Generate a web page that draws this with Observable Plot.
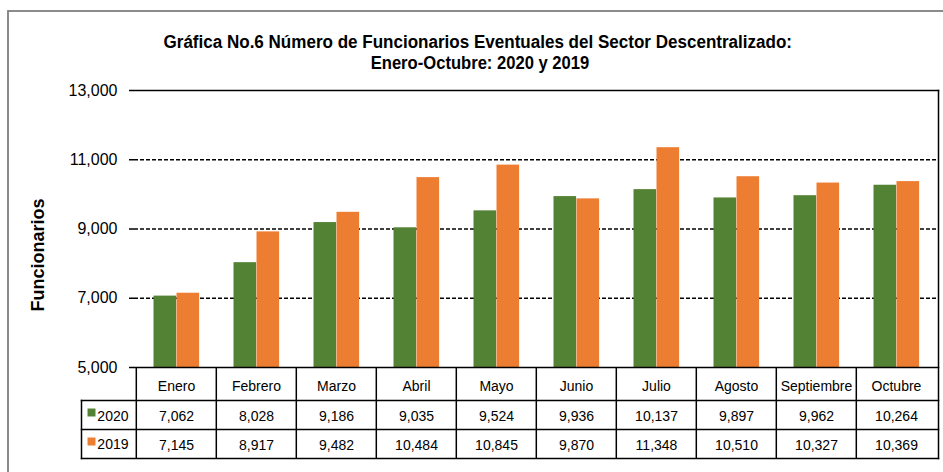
<!DOCTYPE html>
<html>
<head>
<meta charset="utf-8">
<script src="https://cdn.jsdelivr.net/npm/d3@7"></script>
<script src="https://cdn.jsdelivr.net/npm/@observablehq/plot@0.6"></script>
<style>
  html, body { margin: 0; padding: 0; background: #fff; overflow: hidden; }
  #chart { width: 943px; height: 472px; }
</style>
</head>
<body>
<div id="chart"></div>
<script>
const months = ["Enero", "Febrero", "Marzo", "Abril", "Mayo", "Junio", "Julio", "Agosto", "Septiembre", "Octubre"];
const seriesNames = ["2020", "2019"];
const values2020 = [7062, 8028, 9186, 9035, 9524, 9936, 10137, 9897, 9962, 10264];
const values2019 = [7145, 8917, 9482, 10484, 10845, 9870, 11348, 10510, 10327, 10369];
const yTicks = [5000, 7000, 9000, 11000, 13000];
const gridValues = [7000, 9000, 11000];
const titleLines = [
  "Gráfica No.6 Número de Funcionarios Eventuales del Sector Descentralizado:",
  "Enero-Octubre: 2020 y 2019"
];
const yLabel = "Funcionarios";

const colors = {"2020": "#548235", "2019": "#ED7D31"};

const W = 943, H = 472, mL = 134, mR = 5, mT = 90, mB = 105;
const bw = (W - mL - mR) / months.length;
const barW = 23, barOff = 17.5;
const fmt = d3.format(",");

const rows = months.map((m, i) => ({month: m, v2020: values2020[i], v2019: values2019[i]}));
const yMin = yTicks[0];
const line = {stroke: "#000", strokeWidth: 1.5};

const chart = Plot.plot({
  width: W, height: H,
  marginLeft: mL, marginRight: mR, marginTop: mT, marginBottom: mB,
  style: {fontFamily: "'Liberation Sans', Arial, sans-serif", background: "#fff", color: "#000"},
  x: {type: "band", domain: months, padding: 0, axis: null},
  y: {domain: [yTicks[0], yTicks[yTicks.length - 1]], axis: null},
  marks: [
    Plot.ruleY(gridValues, {stroke: "#000", strokeWidth: 1.4, strokeDasharray: "4,2"}),
    Plot.barY(rows, {x: "month", y1: yMin, y2: "v2020", fill: colors["2020"], insetLeft: barOff, insetRight: bw - barOff - barW}),
    Plot.barY(rows, {x: "month", y1: yMin, y2: "v2019", fill: colors["2019"], insetLeft: barOff + barW, insetRight: bw - barOff - 2 * barW}),
    Plot.axisY({ticks: yTicks, tickFormat: fmt, tickSize: 5, tickPadding: 12, fontSize: 16, label: null, strokeWidth: 1.5}),
    Plot.text([yLabel], {frameAnchor: "left", dx: -96, dy: 26, rotate: -90, text: d => d, fontWeight: "bold", fontSize: 18, textAnchor: "middle"}),
    // plot area borders
    Plot.frame({anchor: "top", ...line}),
    Plot.frame({anchor: "right", insetBottom: -91, ...line}),
    Plot.frame({anchor: "bottom", ...line}),
    // table
    Plot.ruleX(months, {x: d => d, dx: -bw / 2, insetTop: H - mT - mB, insetBottom: -91, ...line}),
    Plot.frame({anchor: "left", insetLeft: -53, insetTop: 310, insetBottom: -91, ...line}),
    Plot.frame({anchor: "top", insetLeft: -53, insetTop: 310, ...line}),
    Plot.frame({anchor: "top", insetLeft: -53, insetTop: 339, ...line}),
    Plot.frame({anchor: "top", insetLeft: -53, insetTop: 368, ...line}),
    Plot.text(months, {x: d => d, frameAnchor: "bottom", dy: 19.5, text: d => d, fontSize: 14, lineAnchor: "middle"}),
    Plot.text(rows, {x: "month", frameAnchor: "bottom", dy: 49.5, text: d => fmt(d.v2020), fontSize: 14, lineAnchor: "middle"}),
    Plot.text(rows, {x: "month", frameAnchor: "bottom", dy: 78, text: d => fmt(d.v2019), fontSize: 14, lineAnchor: "middle"}),
    // legend in table
    Plot.dot([seriesNames[0]], {frameAnchor: "bottom-left", dx: -43, dy: 45, symbol: "square", r: 4.5, fill: colors["2020"], stroke: null}),
    Plot.dot([seriesNames[1]], {frameAnchor: "bottom-left", dx: -43, dy: 74, symbol: "square", r: 4.5, fill: colors["2019"], stroke: null}),
    Plot.text([seriesNames[0]], {frameAnchor: "bottom-left", dx: -6, dy: 49, text: d => d, fontSize: 14, textAnchor: "end", lineAnchor: "middle"}),
    Plot.text([seriesNames[1]], {frameAnchor: "bottom-left", dx: -6, dy: 77.5, text: d => d, fontSize: 14, textAnchor: "end", lineAnchor: "middle"})
  ]
});

const svg = d3.select(chart);
// outer chart border
svg.append("rect").attr("x", 8).attr("y", 11).attr("width", 1200).attr("height", 1200)
  .attr("fill", "none").attr("stroke", "#7f7f7f").attr("stroke-width", 1.8);
// title
const tl = [{t: titleLines[0], x1: 163.5, x2: 792, y: 47.7}, {t: titleLines[1], x1: 370.7, x2: 589.3, y: 69.3}];
tl.forEach(d => {
  svg.append("text")
    .attr("x", d.x1).attr("y", d.y)
    .attr("text-anchor", "start")
    .attr("textLength", d.x2 - d.x1).attr("lengthAdjust", "spacingAndGlyphs")
    .attr("font-family", "'Liberation Sans Narrow', 'Arial Narrow', 'Liberation Sans', Arial, sans-serif")
    .attr("font-weight", "bold").attr("font-size", 18).attr("fill", "#000")
    .text(d.t);
});
document.getElementById("chart").appendChild(chart);
</script>
</body>
</html>
